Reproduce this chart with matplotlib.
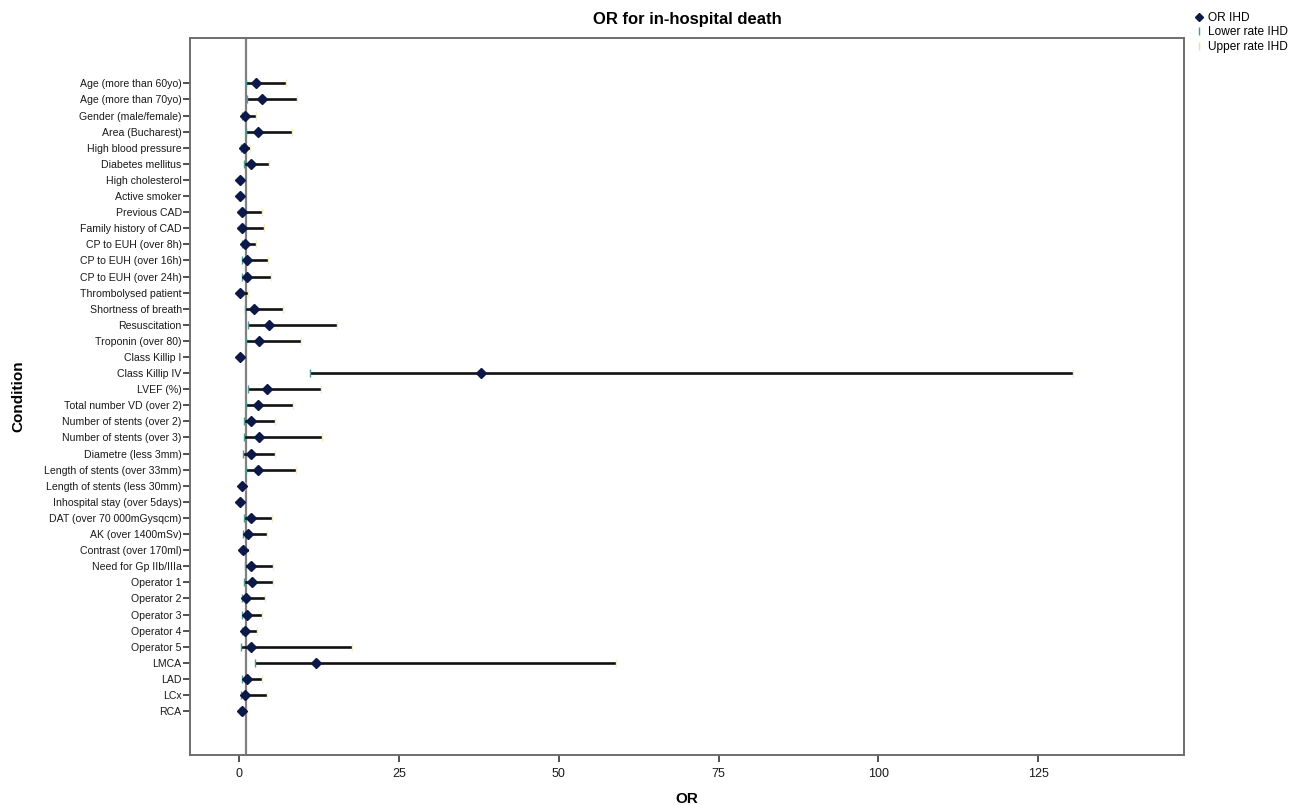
import matplotlib
matplotlib.use("Agg")
import matplotlib.pyplot as plt
from matplotlib.lines import Line2D
import numpy as np

plt.rcParams['font.family'] = ['Liberation Sans', 'DejaVu Sans']

conditions = [
    "Age (more than 60yo)", "Age (more than 70yo)", "Gender (male/female)",
    "Area (Bucharest)", "High blood pressure", "Diabetes mellitus",
    "High cholesterol", "Active smoker", "Previous CAD", "Family history of CAD",
    "CP to EUH (over 8h)", "CP to EUH (over 16h)", "CP to EUH (over 24h)",
    "Thrombolysed patient", "Shortness of breath", "Resuscitation",
    "Troponin (over 80)", "Class Killip I", "Class Killip IV", "LVEF (%)",
    "Total number VD (over 2)", "Number of stents (over 2)",
    "Number of stents (over 3)", "Diametre (less 3mm)",
    "Length of stents (over 33mm)", "Length of stents (less 30mm)",
    "Inhospital stay (over 5days)", "DAT (over 70 000mGysqcm)",
    "AK (over 1400mSv)", "Contrast (over 170ml)", "Need for Gp IIb/IIIa",
    "Operator 1", "Operator 2", "Operator 3", "Operator 4", "Operator 5",
    "LMCA", "LAD", "LCx", "RCA",
]

or_ihd = [2.57, 3.50, 0.94, 2.97, 0.78, 1.78, 0.11, 0.11, 0.47, 0.47,
          0.89, 1.25, 1.20, 0.11, 2.35, 4.60, 3.08, 0.06, 37.8, 4.29,
          2.88, 1.88, 3.04, 1.78, 2.97, 0.47, 0.11, 1.78, 1.41, 0.58,
          1.88, 2.03, 1.05, 1.16, 0.94, 1.88, 12.0, 1.25, 0.85, 0.38]

lower_ihd = [1.00, 1.16, 0.42, 1.05, 0.22, 0.78, 0.04, 0.04, 0.20, 0.20,
             0.40, 0.42, 0.42, 0.02, 0.89, 1.41, 1.05, 0.01, 11.0, 1.41,
             1.05, 0.74, 0.69, 0.63, 1.05, 0.20, 0.02, 0.78, 0.63, 0.25,
             0.89, 0.78, 0.42, 0.47, 0.42, 0.22, 2.46, 0.47, 0.22, 0.15]

upper_ihd = [7.31, 9.08, 2.57, 8.20, 1.67, 4.69, 0.40, 0.45, 3.55, 3.87,
             2.61, 4.54, 4.96, 1.41, 6.79, 15.34, 9.61, 0.30, 130.4, 12.74,
             8.36, 5.59, 12.94, 5.59, 8.83, 0.90, 0.40, 5.16, 4.38, 1.52,
             5.32, 5.32, 4.02, 3.55, 2.82, 17.68, 58.95, 3.55, 4.29, 1.16]

x_ticks = [0, 25, 50, 75, 100, 125]
reference_or = 1

fig = plt.figure(figsize=(12.91, 8.05), dpi=100)
ax = fig.add_axes([0.1472, 0.0621, 0.7699, 0.8907])

y = np.arange(len(conditions))
frame_grey = "#6e6e6e"

# reference line at OR = 1
ax.axvline(reference_or, color="#808080", lw=1.6, zorder=1)

# confidence intervals
ax.hlines(y, lower_ihd, upper_ihd, color="#111111", lw=1.9, zorder=2)
ax.plot(lower_ihd, y, linestyle="none", marker="|", ms=6, mew=1.0,
        color="#4a9a96", zorder=3)
ax.plot(upper_ihd, y, linestyle="none", marker="|", ms=6, mew=1.0,
        color="#f3eec2", zorder=3)
ax.plot(or_ihd, y, linestyle="none", marker="D", ms=4.6,
        color="#0c1848", mec="#0c1848", zorder=4)

ax.set_xlim(-7.7, 147.8)
ax.set_ylim(len(conditions) - 1 + 2.73, -2.82)
ax.set_xticks(x_ticks)
ax.set_xticklabels([str(t) for t in x_ticks])
ax.set_yticks(y)
ax.set_yticklabels(conditions)

ax.tick_params(axis="y", length=5, width=1.2, color="#333333", pad=1,
               labelsize=7.6, labelcolor="#1a1a1a")
ax.tick_params(axis="x", length=5, width=1.2, color="#333333", pad=4,
               labelsize=9, labelcolor="#1a1a1a")

for s in ax.spines.values():
    s.set_color(frame_grey)
    s.set_linewidth(1.4)

ax.set_title("OR for in-hospital death", fontsize=12, fontweight="bold",
             pad=10)
ax.set_xlabel("OR", fontsize=11, fontweight="bold", labelpad=9)
ax.set_ylabel("Condition", fontsize=11, fontweight="bold", labelpad=14)

handles = [
    Line2D([], [], linestyle="none", marker="D", ms=4.5, color="#0c1848"),
    Line2D([], [], linestyle="none", marker="|", ms=6, mew=1.0, color="#4a9a96"),
    Line2D([], [], linestyle="none", marker="|", ms=6, mew=1.0, color="#e8e0a8"),
]
fig.legend(handles, ["OR IHD", "Lower rate IHD", "Upper rate IHD"],
           loc="upper left", bbox_to_anchor=(0.922, 0.991), frameon=False,
           fontsize=8.6, handlelength=0.6, handletextpad=0.5,
           labelspacing=0.2, borderaxespad=0)

fig.savefig("out.png", dpi=100)
